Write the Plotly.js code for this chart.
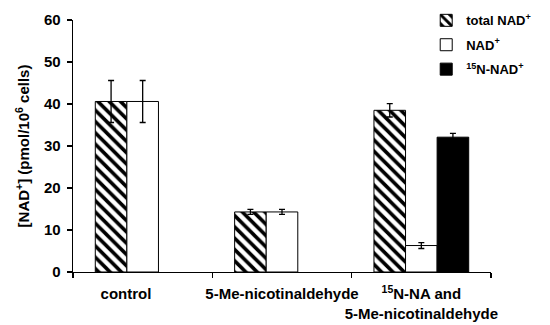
<!DOCTYPE html>
<html>
<head>
<meta charset="utf-8">
<script src="https://cdn.plot.ly/plotly-3.0.1.min.js"></script>
<style>html,body{margin:0;padding:0;background:#fff;}#chart{width:550px;height:325px;}</style>
</head>
<body>
<div id="chart"></div>
<script>
const categories = ["control\u00a0\u00a0\u00a0\u00a0\u00a0\u00a0\u00a0\u00a0", "5-Me-nicotinaldehyde", "<sup>15</sup>N-NA and<br>5-Me-nicotinaldehyde"];
const seriesNames = ["total NAD<sup>+</sup>", "NAD<sup>+</sup>", "<sup>15</sup>N-NAD<sup>+</sup>"];
const totalNAD = [40.6, 14.3, 38.5];
const totalNADErr = [5.0, 0.6, 1.6];
const nad = [40.6, 14.3, 6.3];
const nadErr = [5.0, 0.6, 0.7];
const n15NAD = [null, null, 32.1];
const n15NADErr = [null, null, 0.9];
const yTicks = [0, 10, 20, 30, 40, 50, 60];

const fam = "Liberation Sans, Arial, sans-serif";
const errStyle = {type: "data", visible: true, color: "#000", thickness: 1.3, width: 3};

const traces = [
  {type: "bar", name: seriesNames[0], legendgroup: "a", x: categories, y: totalNAD,
   error_y: Object.assign({array: totalNADErr}, errStyle),
   marker: {color: "#fff", line: {color: "#000", width: 1},
            pattern: {shape: "\\", fgcolor: "#000", fgopacity: 1, bgcolor: "#fff", size: 8, solidity: 0.45, fillmode: "overlay"}}},
  {type: "bar", name: seriesNames[1], legendgroup: "b", x: categories, y: nad,
   error_y: Object.assign({array: nadErr}, errStyle),
   marker: {color: "#fff", line: {color: "#000", width: 1}}},
  {type: "bar", name: seriesNames[2], legendgroup: "c", x: categories, y: n15NAD,
   error_y: Object.assign({array: n15NADErr}, errStyle),
   marker: {color: "#000", line: {color: "#000", width: 1}}}
];

const layout = {
  width: 550, height: 325,
  margin: {l: 73, r: 59, t: 20, b: 53, autoexpand: false},
  paper_bgcolor: "#fff", plot_bgcolor: "#fff",
  font: {family: fam, color: "#000", weight: 700},
  barmode: "group", bargap: 0.32, bargroupgap: 0,
  showlegend: true,
  legend: {x: 0.845, y: 1.058, xanchor: "left", yanchor: "top", bgcolor: "rgba(0,0,0,0)",
           traceorder: "grouped", tracegroupgap: 4.5, itemwidth: 30,
           font: {family: fam, size: 13, color: "#000", weight: 700}},
  xaxis: {type: "category", range: [-0.5, 2.5], showline: true, linecolor: "#000", linewidth: 1.3,
          ticks: "outside", tickson: "boundaries", ticklen: 5, tickcolor: "#000", tickwidth: 1.3,
          showgrid: false, zeroline: false, tickangle: 0, automargin: false, ticklabelstandoff: 8,
          tickfont: {family: fam, size: 15, color: "#000", weight: 700}},
  yaxis: {range: [0, 60], tickvals: yTicks, ticktext: yTicks.map(String), showline: true, linecolor: "#000", linewidth: 1.3,
          ticks: "outside", ticklen: 5, tickcolor: "#000", tickwidth: 1.3, showgrid: false, zeroline: false, automargin: false,
          ticklabelstandoff: 3,
          tickfont: {family: fam, size: 15, color: "#000", weight: 700},
          title: {text: "[NAD<sup>+</sup>] (pmol/10<sup>6</sup> cells)", standoff: 10,
                  font: {family: fam, size: 15, color: "#000", weight: 700}}}
};

Plotly.newPlot("chart", traces, layout, {displayModeBar: false, staticPlot: true});
</script>
</body>
</html>
